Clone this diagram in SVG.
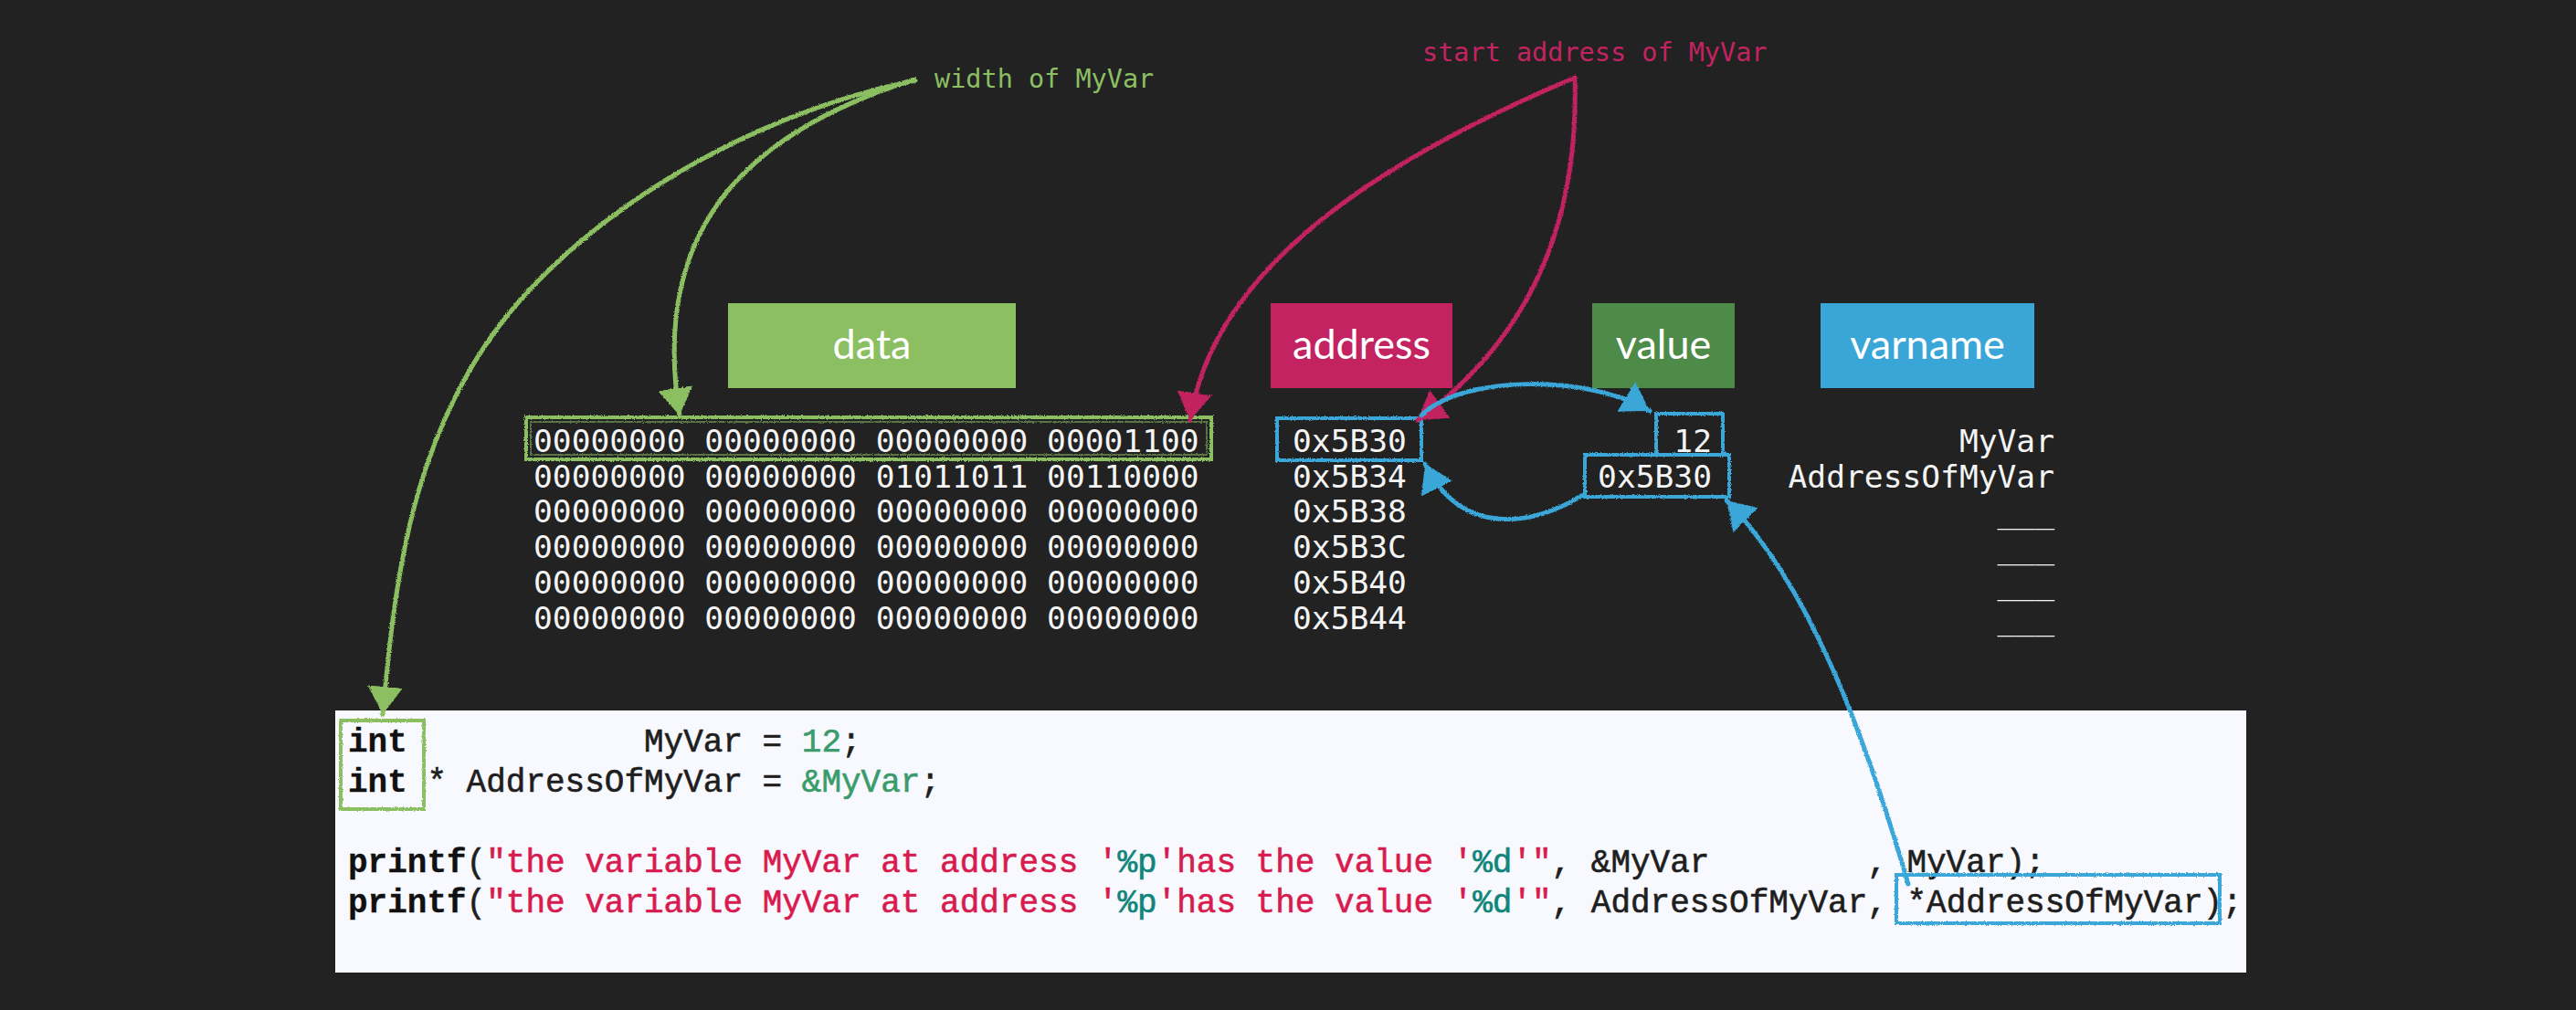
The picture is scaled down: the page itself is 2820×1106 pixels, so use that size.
<svg xmlns="http://www.w3.org/2000/svg" width="2820" height="1106" viewBox="0 0 2820 1106">
<defs>
<style>
.hdr{font-family:Lato,"Open Sans","Liberation Sans",sans-serif;font-size:45px;fill:#ffffff;text-anchor:middle}
.mem{font-family:"DejaVu Sans Mono","Liberation Mono",monospace;font-size:34.6px;fill:#f4f4f4}
.lbl{font-family:"DejaVu Sans Mono","Liberation Mono",monospace;font-size:28.5px}
.code{font-family:"Liberation Mono","DejaVu Sans Mono",monospace;font-size:36px;fill:#1e1e1e;stroke:#1e1e1e;stroke-width:0.6}
.kw{font-weight:bold;fill:#111111;stroke:#111111;stroke-width:0.3}
.str{fill:#d81b4f;stroke:#d81b4f}
.fmt{fill:#10857b;stroke:#10857b}
.num{fill:#3a9c6c;stroke:#3a9c6c}
.conn{fill:none;stroke-width:5;stroke-linecap:round}
.g{stroke:#8cbf62}
.m{stroke:#c32360}
.b{stroke:#3aa6d8}
.box{fill:none;stroke-width:4}
</style>
<filter id="chalk" filterUnits="userSpaceOnUse" x="0" y="0" width="2820" height="1106">
<feTurbulence type="fractalNoise" baseFrequency="0.9" numOctaves="2" seed="4" result="n"/>
<feDisplacementMap in="SourceGraphic" in2="n" scale="3" xChannelSelector="R" yChannelSelector="G"/>
</filter>
<marker id="ah-green" viewBox="0 0 30 38" refX="30" refY="19" markerWidth="30" markerHeight="38" markerUnits="userSpaceOnUse" orient="auto"><path d="M0,0 L30,19 L0,38 Z" fill="#8cbf62"/></marker>
<marker id="ah-mag" viewBox="0 0 30 38" refX="30" refY="19" markerWidth="30" markerHeight="38" markerUnits="userSpaceOnUse" orient="auto"><path d="M0,0 L30,19 L0,38 Z" fill="#c32360"/></marker>
<marker id="ah-blue" viewBox="0 0 30 38" refX="30" refY="19" markerWidth="30" markerHeight="38" markerUnits="userSpaceOnUse" orient="auto"><path d="M0,0 L30,19 L0,38 Z" fill="#3aa6d8"/></marker>
</defs>
<rect x="0" y="0" width="2820" height="1106" fill="#222222"/>

<g id="label-width">
<text class="lbl" x="1023" y="96" fill="#8cbf62">width of MyVar</text>
</g>
<g id="label-start">
<text class="lbl" x="1557" y="67" fill="#c32360">start address of MyVar</text>
</g>

<g id="header-data"><rect x="797" y="332" width="315" height="93" fill="#8cbf62"/><text class="hdr" x="954.5" y="393">data</text></g>
<g id="header-address"><rect x="1391" y="332" width="199" height="93" fill="#c32360"/><text class="hdr" x="1490.5" y="393">address</text></g>
<g id="header-value"><rect x="1743" y="332" width="156" height="93" fill="#4e8a48"/><text class="hdr" x="1821" y="393">value</text></g>
<g id="header-varname"><rect x="1993" y="332" width="234" height="93" fill="#3aa6d8"/><text class="hdr" x="2110" y="393">varname</text></g>

<g id="memory-data">
<text class="mem" x="584" y="495">00000000 00000000 00000000 00001100</text>
<text class="mem" x="584" y="533.5">00000000 00000000 01011011 00110000</text>
<text class="mem" x="584" y="572">00000000 00000000 00000000 00000000</text>
<text class="mem" x="584" y="611">00000000 00000000 00000000 00000000</text>
<text class="mem" x="584" y="650">00000000 00000000 00000000 00000000</text>
<text class="mem" x="584" y="688.5">00000000 00000000 00000000 00000000</text>
<g filter="url(#chalk)">
<rect class="box" x="576" y="457" width="750" height="46" stroke="#8cbf62"/>
<rect x="581" y="462" width="740" height="36" fill="none" stroke="#8cbf62" stroke-width="1.5" opacity="0.7"/>
</g>
</g>

<g id="memory-address">
<text class="mem" x="1415" y="495">0x5B30</text>
<text class="mem" x="1415" y="533.5">0x5B34</text>
<text class="mem" x="1415" y="572">0x5B38</text>
<text class="mem" x="1415" y="611">0x5B3C</text>
<text class="mem" x="1415" y="650">0x5B40</text>
<text class="mem" x="1415" y="688.5">0x5B44</text>
<rect class="box" x="1398" y="458" width="158" height="46" stroke="#3aa6d8" filter="url(#chalk)"/>
</g>

<g id="memory-value">
<text class="mem" x="1874" y="495" text-anchor="end">12</text>
<text class="mem" x="1874" y="533.5" text-anchor="end">0x5B30</text>
<g filter="url(#chalk)">
<rect class="box" x="1813" y="453" width="73" height="45" stroke="#3aa6d8"/>
<rect class="box" x="1735" y="498" width="158" height="46" stroke="#3aa6d8"/>
</g>
</g>

<g id="memory-varname">
<text class="mem" x="2249" y="495" text-anchor="end">MyVar</text>
<text class="mem" x="2249" y="533.5" text-anchor="end">AddressOfMyVar</text>
<text class="mem" x="2249" y="572" text-anchor="end">___</text>
<text class="mem" x="2249" y="611" text-anchor="end">___</text>
<text class="mem" x="2249" y="650" text-anchor="end">___</text>
<text class="mem" x="2249" y="688.5" text-anchor="end">___</text>
</g>

<g id="code-panel">
<rect x="367" y="778" width="2092" height="287" fill="#f8f9fe"/>
<text class="code" y="823"><tspan class="kw" x="381">int</tspan><tspan x="705">MyVar</tspan><tspan x="834.6">=</tspan><tspan class="num" x="877.8">12</tspan><tspan x="921">;</tspan></text>
<text class="code" y="867"><tspan class="kw" x="381">int</tspan><tspan x="467.4">*</tspan><tspan x="510.6">AddressOfMyVar</tspan><tspan x="834.6">=</tspan><tspan class="num" x="877.8">&amp;MyVar</tspan><tspan x="1007.4">;</tspan></text>
<text class="code" y="955"><tspan class="kw" x="381">printf</tspan><tspan x="510.6">(</tspan><tspan class="str" x="532.2">"the variable MyVar at address '</tspan><tspan class="fmt" x="1223.4">%p</tspan><tspan class="str" x="1266.6">'has the value '</tspan><tspan class="fmt" x="1612.2">%d</tspan><tspan class="str" x="1655.4">'"</tspan><tspan x="1698.6">, &amp;MyVar</tspan><tspan x="2044.2">, MyVar);</tspan></text>
<text class="code" y="999"><tspan class="kw" x="381">printf</tspan><tspan x="510.6">(</tspan><tspan class="str" x="532.2">"the variable MyVar at address '</tspan><tspan class="fmt" x="1223.4">%p</tspan><tspan class="str" x="1266.6">'has the value '</tspan><tspan class="fmt" x="1612.2">%d</tspan><tspan class="str" x="1655.4">'"</tspan><tspan x="1698.6">, AddressOfMyVar, *AddressOfMyVar);</tspan></text>
<g filter="url(#chalk)">
<rect class="box" x="373" y="789" width="91" height="97" stroke="#8cbf62"/>
<rect class="box" x="2076" y="958" width="354" height="53" stroke="#3aa6d8"/>
</g>
</g>

<g id="connectors" filter="url(#chalk)">
<path class="conn g" d="M1002,88 C806,128 626,245 539,367 C446,497 431,652 419,782" marker-end="url(#ah-green)"/>
<path class="conn g" d="M1001,87 C811,147 712,255 744,455" marker-end="url(#ah-green)"/>
<path class="conn m" d="M1724,85 C1540,163 1330,280 1303,460" marker-end="url(#ah-mag)"/>
<path class="conn m" d="M1724,85 C1728,220 1690,360 1552,460" marker-end="url(#ah-mag)"/>
<path class="conn b" d="M1556,455 C1600,410 1740,410 1806,450" marker-end="url(#ah-blue)"/>
<path class="conn b" d="M1731,543 C1680,575 1600,590 1560,508" marker-end="url(#ah-blue)"/>
<path class="conn b" d="M2089,968 C2040,800 1980,640 1890,548" marker-end="url(#ah-blue)"/>
</g>
</svg>
